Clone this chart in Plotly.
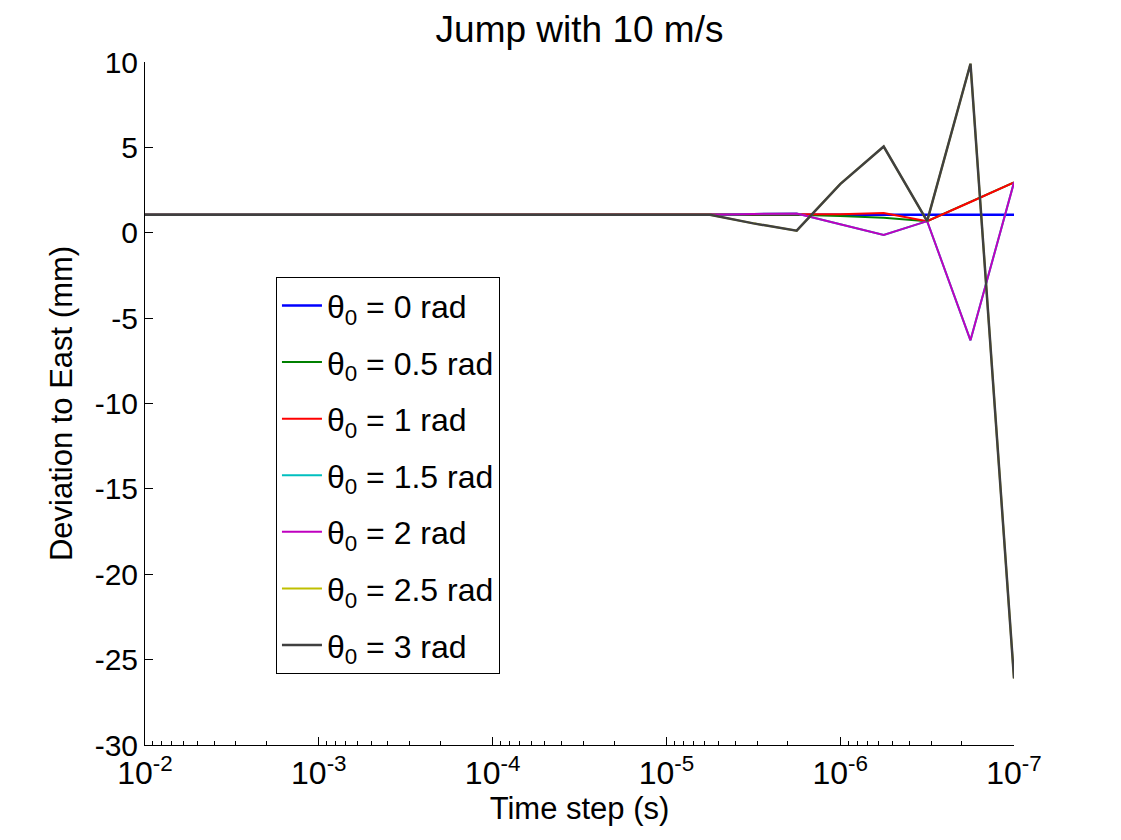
import plotly.graph_objects as go

# Time steps (s): quarter-decade steps from 1e-2 down to 1e-7
time_step = [1e-2, 5.62e-3, 3.16e-3, 1.78e-3, 1e-3, 5.62e-4, 3.16e-4, 1.78e-4,
             1e-4, 5.62e-5, 3.16e-5, 1.78e-5, 1e-5, 5.62e-6, 3.16e-6, 1.78e-6,
             1e-6, 5.62e-7, 3.16e-7, 1.78e-7, 1e-7]

flat = [1.05] * 13

dev_0 = flat + [1.05, 1.05, 1.05, 1.05, 1.05, 1.05, 1.05, 1.05]
dev_05 = flat + [1.05, 1.05, 1.05, 0.98, 0.88, 0.68, 1.8, 2.95]
dev_1 = flat + [1.05, 1.05, 1.05, 1.08, 1.15, 0.68, 1.8, 2.95]
dev_15 = flat + [1.05, 1.1, 1.13, 0.5, -0.13, 0.68, -6.3, 2.95]
dev_2 = flat + [1.05, 1.1, 1.13, 0.5, -0.13, 0.68, -6.3, 2.95]
dev_25 = flat + [1.05, 0.55, 0.12, 2.85, 5.05, 0.68, 9.9, -26.1]
dev_3 = flat + [1.05, 0.55, 0.12, 2.85, 5.05, 0.68, 9.9, -26.1]

series_names = ["θ<sub>0</sub> = 0 rad", "θ<sub>0</sub> = 0.5 rad", "θ<sub>0</sub> = 1 rad",
                "θ<sub>0</sub> = 1.5 rad", "θ<sub>0</sub> = 2 rad", "θ<sub>0</sub> = 2.5 rad",
                "θ<sub>0</sub> = 3 rad"]
series_values = [dev_0, dev_05, dev_1, dev_15, dev_2, dev_25, dev_3]
series_colors = ["rgb(0,0,255)", "rgb(0,128,0)", "rgb(255,0,0)", "rgb(0,191,191)",
                 "rgb(191,0,191)", "rgb(191,191,0)", "rgb(64,64,64)"]
series_widths = [2.5, 2, 2, 2, 2, 2, 2.5]

x_tickvals = [1e-2, 1e-3, 1e-4, 1e-5, 1e-6, 1e-7]
x_ticktext = ["10<sup>-2</sup>", "10<sup>-3</sup>", "10<sup>-4</sup>",
              "10<sup>-5</sup>", "10<sup>-6</sup>", "10<sup>-7</sup>"]
y_tickvals = [-30, -25, -20, -15, -10, -5, 0, 5, 10]
y_ticktext = ["-30", "-25", "-20", "-15", "-10", "-5", "0", "5", "10"]

minor_vals = [m * 10.0 ** e for e in range(-8, -2) for m in range(2, 10)]

FONT = "Liberation Sans, Arial, sans-serif"

fig = go.Figure()
for i, (name, vals, col, w) in enumerate(zip(series_names, series_values, series_colors, series_widths)):
    fig.add_trace(go.Scatter(
        x=time_step, y=vals, mode="lines", name=name,
        line=dict(color=col, width=w),
        legendgroup=f"g{i}",
    ))

fig.update_layout(
    width=1121, height=840,
    paper_bgcolor="white", plot_bgcolor="white",
    margin=dict(l=137, r=115, t=54, b=103, autoexpand=False),
    font=dict(family=FONT, size=30, color="black"),
    title=dict(text="Jump with 10 m/s", x=0.5, xref="paper", xanchor="center",
               y=0.975, yref="container", yanchor="middle", automargin=False,
               font=dict(family=FONT, size=37, color="black")),
    showlegend=True,
    legend=dict(x=0.1507, y=0.685, xanchor="left", yanchor="top",
                bordercolor="black", borderwidth=1, bgcolor="white",
                font=dict(family=FONT, size=32, color="black"),
                tracegroupgap=12, itemwidth=40),
)

fig.update_xaxes(
    type="log", range=[-2, -7], automargin=False,
    tickmode="array", tickvals=x_tickvals, ticktext=x_ticktext,
    ticks="inside", ticklen=8, tickcolor="black", tickwidth=1,
    minor=dict(ticks="inside", ticklen=4, tickcolor="black", tickwidth=1,
               tickmode="array", tickvals=minor_vals, showgrid=False),
    showline=True, linecolor="black", linewidth=1, mirror=False,
    showgrid=False, zeroline=False,
    title=dict(text="Time step (s)", standoff=4, font=dict(family=FONT, size=31)),
    tickfont=dict(family=FONT, size=32),
)
fig.update_yaxes(
    range=[-30, 10], automargin=False,
    tickmode="array", tickvals=y_tickvals, ticktext=y_ticktext,
    ticks="inside", ticklen=8, tickcolor="black", tickwidth=1,
    showline=True, linecolor="black", linewidth=1, mirror=False,
    showgrid=False, zeroline=False,
    title=dict(text="Deviation to East (mm)", standoff=12, font=dict(family=FONT, size=31)),
    tickfont=dict(family=FONT, size=30),
)

fig.write_html("out.html")
